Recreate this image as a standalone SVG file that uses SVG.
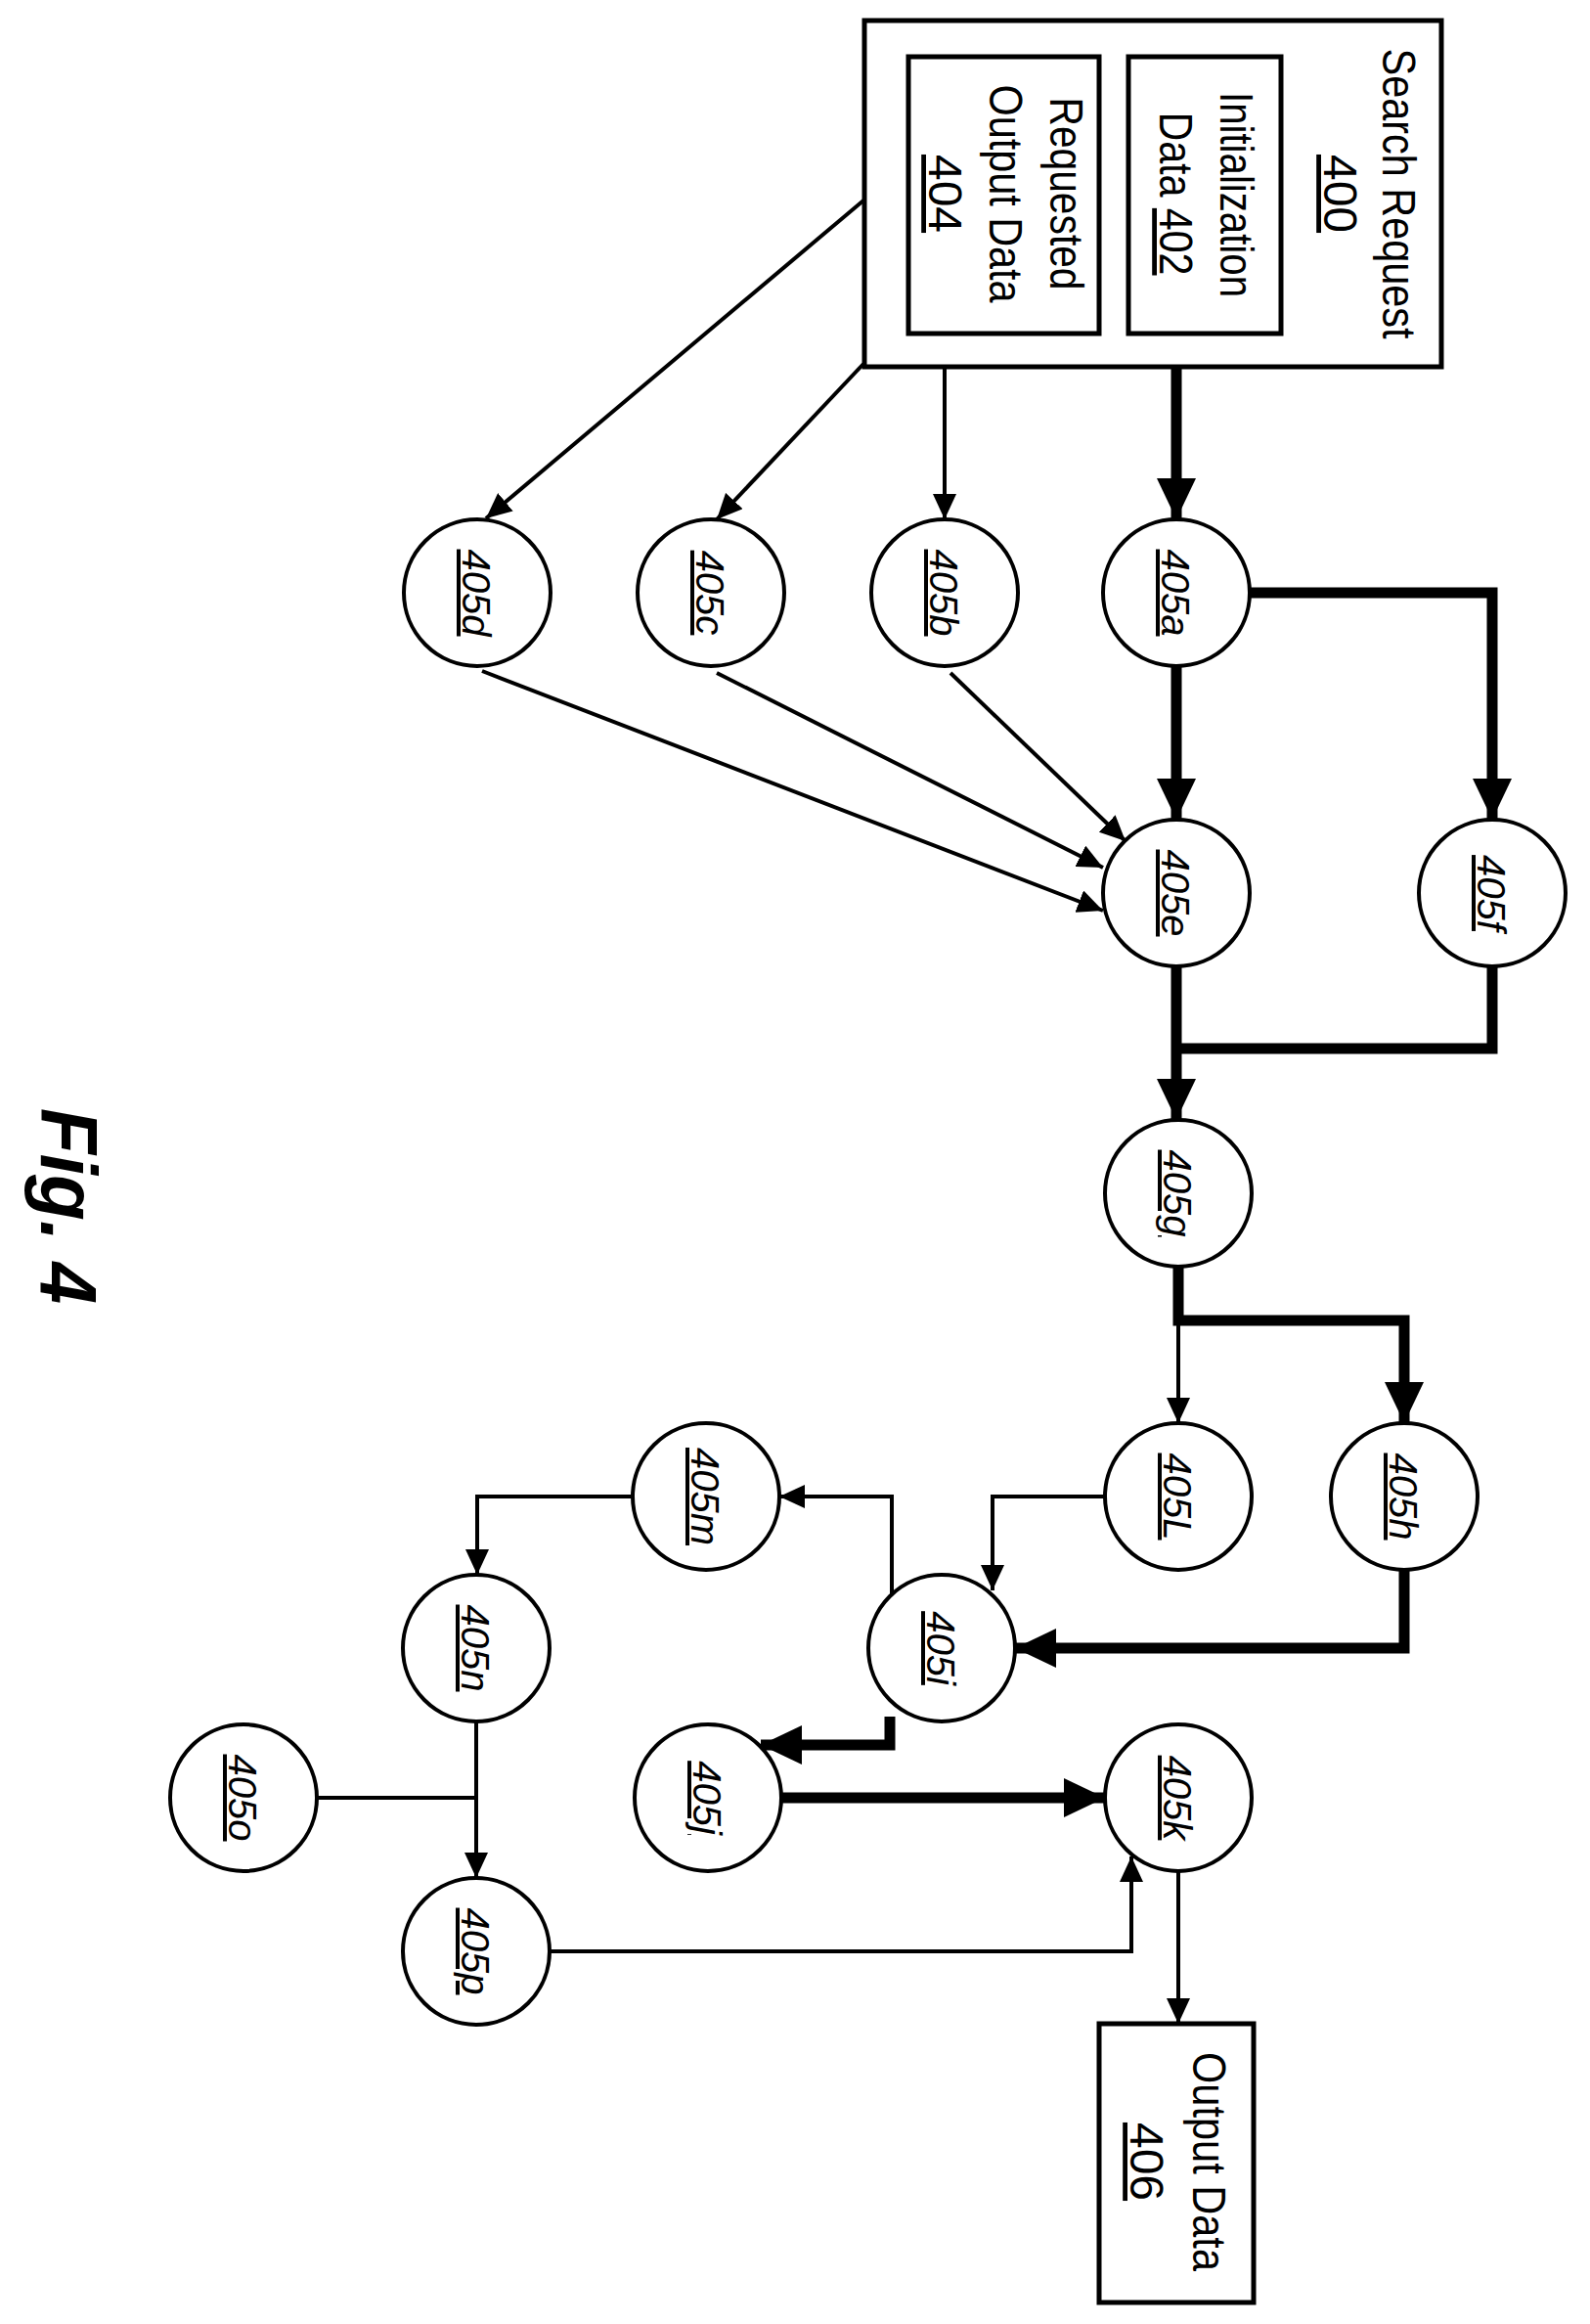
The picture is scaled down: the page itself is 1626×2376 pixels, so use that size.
<svg xmlns="http://www.w3.org/2000/svg" width="1626" height="2376" viewBox="0 0 1626 2376">
<style>
.n{fill:#fff;stroke:#000;stroke-width:4}
.b{fill:#fff;stroke:#000;stroke-width:5}
.t{font-family:"Liberation Sans",Arial,sans-serif;fill:#000;text-anchor:middle}
.l{font-size:40px;font-style:italic;text-decoration:underline}
.bt{font-size:48px}
.thin{fill:none;stroke:#000;stroke-width:4}
.thick{fill:none;stroke:#000;stroke-width:11}
</style>
<defs>
<marker id="ah" markerUnits="userSpaceOnUse" markerWidth="26" markerHeight="24" refX="26" refY="12" orient="auto"><path d="M0,0 L26,12 L0,24 z" fill="#000"/></marker>
<marker id="aH" markerUnits="userSpaceOnUse" markerWidth="42" markerHeight="40" refX="42" refY="20" orient="auto"><path d="M0,0 L42,20 L0,40 z" fill="#000"/></marker>
</defs>
<g id="connectors">
<path class="thick" d="M1203,375 V531" marker-end="url(#aH)"/>
<path class="thick" d="M1203,681 V838" marker-end="url(#aH)"/>
<path class="thick" d="M1279,606 H1526 V838" marker-end="url(#aH)"/>
<path class="thick" d="M1526,988 V1072 H1203"/>
<path class="thick" d="M1203,988 V1145" marker-end="url(#aH)"/>
<path class="thick" d="M1205,1295 V1350 H1436 V1455" marker-end="url(#aH)"/>
<path class="thick" d="M1436,1605 V1685 H1038" marker-end="url(#aH)"/>
<path class="thick" d="M910,1755 V1784 H778" marker-end="url(#aH)"/>
<path class="thick" d="M799,1838 H1130" marker-end="url(#aH)"/>
<path class="thin" d="M966,375 V531" marker-end="url(#ah)"/>
<path class="thin" d="M883,372 L733,531" marker-end="url(#ah)"/>
<path class="thin" d="M883,205 L497,530" marker-end="url(#ah)"/>
<path class="thin" d="M972,688 L1151,860" marker-end="url(#ah)"/>
<path class="thin" d="M733,688 L1128,887" marker-end="url(#ah)"/>
<path class="thin" d="M493,686 L1128,931" marker-end="url(#ah)"/>
<path class="thin" d="M1205,1350 V1455" marker-end="url(#ah)"/>
<path class="thin" d="M1130,1530 H1015 V1626" marker-end="url(#ah)"/>
<path class="thin" d="M912,1630 V1530 H797" marker-end="url(#ah)"/>
<path class="thin" d="M648,1530 H488 V1610" marker-end="url(#ah)"/>
<path class="thin" d="M487,1760 V1920" marker-end="url(#ah)"/>
<path class="thin" d="M324,1838 H487"/>
<path class="thin" d="M562,1995 H1157 V1898" marker-end="url(#ah)"/>
<path class="thin" d="M1205,1913 V2069" marker-end="url(#ah)"/>
</g>
<g id="n400">
<rect class="b" x="884" y="21" width="590" height="354"/>
<text class="t bt" transform="translate(1414,198) rotate(90)" textLength="297" lengthAdjust="spacingAndGlyphs">Search Request</text>
<text class="t bt" transform="translate(1354,198) rotate(90)" text-decoration="underline">400</text>
</g>
<g id="n402">
<rect class="b" x="1154" y="58" width="156" height="283"/>
<text class="t bt" transform="translate(1248,199) rotate(90)" textLength="210" lengthAdjust="spacingAndGlyphs">Initialization</text>
<text class="t bt" transform="translate(1186,198) rotate(90)" textLength="167" lengthAdjust="spacingAndGlyphs">Data <tspan text-decoration="underline">402</tspan></text>
</g>
<g id="n404">
<rect class="b" x="929" y="58" width="195" height="283"/>
<text class="t bt" transform="translate(1074,198) rotate(90)" textLength="197" lengthAdjust="spacingAndGlyphs">Requested</text>
<text class="t bt" transform="translate(1012,198) rotate(90)" textLength="223" lengthAdjust="spacingAndGlyphs">Output Data</text>
<text class="t bt" transform="translate(950,198) rotate(90)" text-decoration="underline">404</text>
</g>
<g id="n405a"><circle class="n" cx="1203" cy="606" r="75"/><text class="t l" transform="translate(1188,606) rotate(90)">405a</text></g>
<g id="n405b"><circle class="n" cx="966" cy="606" r="75"/><text class="t l" transform="translate(951,606) rotate(90)">405b</text></g>
<g id="n405c"><circle class="n" cx="727" cy="606" r="75"/><text class="t l" transform="translate(712,606) rotate(90)">405c</text></g>
<g id="n405d"><circle class="n" cx="488" cy="606" r="75"/><text class="t l" transform="translate(473,606) rotate(90)">405d</text></g>
<g id="n405e"><circle class="n" cx="1203" cy="913" r="75"/><text class="t l" transform="translate(1188,913) rotate(90)">405e</text></g>
<g id="n405f"><circle class="n" cx="1526" cy="913" r="75"/><text class="t l" transform="translate(1511,913) rotate(90)">405f</text></g>
<g id="n405g"><circle class="n" cx="1205" cy="1220" r="75"/><text class="t l" transform="translate(1190,1220) rotate(90)">405g</text></g>
<g id="n405L"><circle class="n" cx="1205" cy="1530" r="75"/><text class="t l" transform="translate(1190,1530) rotate(90)">405L</text></g>
<g id="n405h"><circle class="n" cx="1436" cy="1530" r="75"/><text class="t l" transform="translate(1421,1530) rotate(90)">405h</text></g>
<g id="n405m"><circle class="n" cx="722" cy="1530" r="75"/><text class="t l" transform="translate(707,1530) rotate(90)">405m</text></g>
<g id="n405i"><circle class="n" cx="963" cy="1685" r="75"/><text class="t l" transform="translate(948,1685) rotate(90)">405i</text></g>
<g id="n405n"><circle class="n" cx="487" cy="1685" r="75"/><text class="t l" transform="translate(472,1685) rotate(90)">405n</text></g>
<g id="n405j"><circle class="n" cx="724" cy="1838" r="75"/><text class="t l" transform="translate(709,1838) rotate(90)">405j</text></g>
<g id="n405k"><circle class="n" cx="1205" cy="1838" r="75"/><text class="t l" transform="translate(1190,1838) rotate(90)">405k</text></g>
<g id="n405o"><circle class="n" cx="249" cy="1838" r="75"/><text class="t l" transform="translate(234,1838) rotate(90)">405o</text></g>
<g id="n405p"><circle class="n" cx="487" cy="1995" r="75"/><text class="t l" transform="translate(472,1995) rotate(90)">405p</text></g>
<g id="n406">
<rect class="b" x="1124" y="2069" width="158" height="285"/>
<text class="t bt" transform="translate(1220,2210) rotate(90)" textLength="224" lengthAdjust="spacingAndGlyphs">Output Data</text>
<text class="t bt" transform="translate(1156,2210) rotate(90)" text-decoration="underline">406</text>
</g>
<text class="t" font-size="82" font-weight="bold" font-style="italic" transform="translate(42,1233) rotate(90)" textLength="200" lengthAdjust="spacingAndGlyphs">Fig. 4</text>
</svg>
